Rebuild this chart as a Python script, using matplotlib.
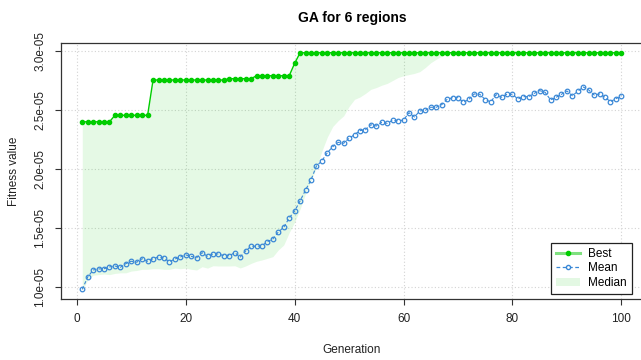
import numpy as np
import matplotlib
matplotlib.use("Agg")
import matplotlib.pyplot as plt
from matplotlib.lines import Line2D
from matplotlib.patches import Patch

plt.rcParams['font.family'] = ['Liberation Sans', 'DejaVu Sans']

# fitness values in units of 1e-05
generation = list(range(1, 101))

best_e5 = [2.40, 2.40, 2.40, 2.40, 2.40, 2.40, 2.455, 2.455, 2.455, 2.455,
           2.455, 2.455, 2.455, 2.754, 2.754, 2.754, 2.754, 2.754, 2.754, 2.754,
           2.754, 2.754, 2.754, 2.754, 2.754, 2.754, 2.754, 2.765, 2.765, 2.765,
           2.765, 2.765, 2.79, 2.79, 2.79, 2.79, 2.79, 2.79, 2.79, 2.895,
           2.985, 2.985, 2.985, 2.985, 2.985, 2.985, 2.985, 2.985, 2.985, 2.985,
           2.985, 2.985, 2.985, 2.985, 2.985, 2.985, 2.985, 2.985, 2.985, 2.985,
           2.985, 2.985, 2.985, 2.985, 2.985, 2.985, 2.985, 2.985, 2.985, 2.985,
           2.985, 2.985, 2.985, 2.985, 2.985, 2.985, 2.985, 2.985, 2.985, 2.985,
           2.985, 2.985, 2.985, 2.985, 2.985, 2.985, 2.985, 2.985, 2.985, 2.985,
           2.985, 2.985, 2.985, 2.985, 2.985, 2.985, 2.985, 2.985, 2.985, 2.985]

mean_e5 = [0.98, 1.085, 1.144, 1.153, 1.155, 1.17, 1.178, 1.167, 1.198, 1.218,
           1.21, 1.24, 1.218, 1.24, 1.254, 1.246, 1.214, 1.237, 1.254, 1.272,
           1.26, 1.248, 1.291, 1.26, 1.28, 1.28, 1.265, 1.265, 1.291, 1.254,
           1.305, 1.345, 1.345, 1.35, 1.384, 1.407, 1.466, 1.506, 1.585, 1.644,
           1.729, 1.822, 1.907, 2.025, 2.068, 2.138, 2.189, 2.226, 2.218, 2.26,
           2.291, 2.325, 2.333, 2.375, 2.364, 2.396, 2.387, 2.413, 2.407, 2.415,
           2.477, 2.441, 2.492, 2.497, 2.523, 2.523, 2.545, 2.59, 2.604, 2.604,
           2.565, 2.59, 2.636, 2.633, 2.588, 2.568, 2.63, 2.608, 2.633, 2.633,
           2.593, 2.613, 2.613, 2.641, 2.664, 2.65, 2.585, 2.607, 2.633, 2.661,
           2.621, 2.658, 2.695, 2.67, 2.627, 2.636, 2.607, 2.571, 2.596, 2.621]

median_e5 = [0.97, 1.06, 1.10, 1.105, 1.11, 1.105, 1.115, 1.12, 1.12, 1.135,
             1.14, 1.15, 1.15, 1.155, 1.155, 1.15, 1.15, 1.16, 1.155, 1.16,
             1.15, 1.144, 1.172, 1.16, 1.18, 1.178, 1.178, 1.178, 1.18, 1.161,
             1.178, 1.20, 1.218, 1.229, 1.243, 1.257, 1.314, 1.356, 1.46, 1.55,
             1.66, 1.79, 1.90, 2.01, 2.15, 2.27, 2.36, 2.41, 2.45, 2.53,
             2.59, 2.61, 2.64, 2.675, 2.69, 2.71, 2.725, 2.75, 2.775, 2.79,
             2.80, 2.81, 2.825, 2.86, 2.90, 2.93, 2.955, 2.985, 2.985, 2.985,
             2.985, 2.985, 2.985, 2.985, 2.985, 2.985, 2.985, 2.985, 2.985, 2.985,
             2.985, 2.985, 2.985, 2.985, 2.985, 2.985, 2.985, 2.985, 2.985, 2.985,
             2.985, 2.985, 2.985, 2.985, 2.985, 2.985, 2.985, 2.985, 2.985, 2.985]

x_ticks = [0, 20, 40, 60, 80, 100]
y_ticks = [1.0e-05, 1.5e-05, 2.0e-05, 2.5e-05, 3.0e-05]
y_tick_labels = ['1.0e-05', '1.5e-05', '2.0e-05', '2.5e-05', '3.0e-05']

best = np.array(best_e5) * 1e-5
mean = np.array(mean_e5) * 1e-5
median = np.array(median_e5) * 1e-5

green = '#00CD00'
blue = '#3a88d6'
fill_col = (0.0, 0.80, 0.0, 0.1)

fig = plt.figure(figsize=(6.41, 3.6), dpi=100)
ax = fig.add_axes([0.0947, 0.1703, 0.9083, 0.7094])

ax.set_xlim(-2.96, 103.96)
ax.set_ylim(0.901e-05, 3.065e-05)

ax.set_xticks(x_ticks)
ax.set_yticks(y_ticks)
ax.set_yticklabels(y_tick_labels, rotation=90, va='center')
ax.grid(True, color='#d3d3d3', linestyle=(0, (1, 2)), linewidth=0.8)
ax.set_axisbelow(True)

ax.fill_between(generation, median, best, color=fill_col, linewidth=0, zorder=2)
ax.plot(generation, best, color=green, lw=1, marker='o', ms=3, zorder=4)
ax.plot(generation, mean, color=blue, lw=0.8, ls=(0, (3, 2)), marker='o',
        ms=3.3, mfc='none', mew=0.9, zorder=3)

for s in ax.spines.values():
    s.set_color('#333333')
    s.set_linewidth(0.9)
ax.tick_params(axis='both', colors='#333333', labelcolor='#222222',
               labelsize=8.5, length=4.5, width=0.8, pad=6)

ax.set_title('GA for 6 regions', fontsize=10, fontweight='bold', pad=15)
ax.set_xlabel('Generation', fontsize=8.5, color='#222222')
ax.set_ylabel('Fitness value', fontsize=8.5, color='#222222')
ax.xaxis.set_label_coords(0.5, -0.178)
ax.yaxis.set_label_coords(-0.07, 0.5)

handles = [
    Line2D([], [], color='#7fe07f', lw=2.2, marker='o', ms=3,
           mfc=green, mec=green),
    Line2D([], [], color=blue, lw=0.9, ls=(0, (3, 2)), marker='o', ms=3,
           mfc='white', mec=blue),
    Patch(facecolor='#e3f8e3', edgecolor='none'),
]
leg = ax.legend(handles, ['Best', 'Mean', 'Median'], loc='lower right',
                bbox_to_anchor=(0.981, 0.018), borderaxespad=0,
                fontsize=8.5, fancybox=False, framealpha=1,
                edgecolor='#222222', handlelength=2.0, labelspacing=0.2,
                borderpad=0.45, handletextpad=0.7)
leg.get_frame().set_linewidth(0.9)

fig.savefig('out.png', dpi=100)
